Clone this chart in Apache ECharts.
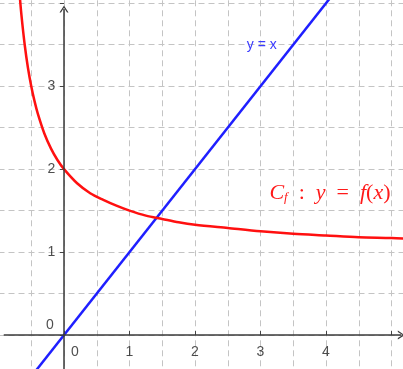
<!DOCTYPE html>
<html>
<head>
<meta charset="utf-8">
<script src="https://cdn.jsdelivr.net/npm/echarts@6/dist/echarts.min.js"></script>
<style>
  html, body { margin: 0; padding: 0; background: #fff; }
  #chart { width: 403px; height: 369px; }
</style>
</head>
<body>
<div id="chart"></div>
<script>
// courbe C_f (x, y)
const curveX = [-0.68, -0.65, -0.6, -0.55, -0.5, -0.45, -0.4, -0.3, -0.2, -0.1, 0, 0.2, 0.4, 0.6, 0.8, 1, 1.25, 1.5, 1.75, 2, 2.5, 3, 3.5, 4, 4.5, 5, 5.3]
const curveY = [4.13, 3.86, 3.5, 3.22, 3.0, 2.82, 2.67, 2.43, 2.25, 2.11, 2.0, 1.83, 1.71, 1.63, 1.56, 1.5, 1.44, 1.4, 1.36, 1.33, 1.29, 1.25, 1.22, 1.2, 1.18, 1.17, 1.16]
// droite y = x
const lineX = [-0.6, 4.3]
const lineY = [-0.6, 4.3]
const xTickLabels = [0, 1, 2, 3, 4]
const yTickLabels = [0, 1, 2, 3]

const gridLine = { color: '#c4c4c4', width: 1, type: [6, 4] }
const chevron = 'path://M0,10 L5,0 L10,10 L8.4,10 L5,3.2 L1.6,10 Z'
const labelFont = { color: '#222', fontSize: 14, fontFamily: 'Liberation Sans' }

const chart = echarts.init(document.getElementById('chart'))
chart.setOption({
  animation: false,
  grid: { left: -1.5, right: -54, top: -79.7, bottom: -49, outerBoundsMode: 'none' },
  xAxis: {
    type: 'value', min: -1, max: 6, interval: 1,
    axisLine: { show: true, onZero: true, lineStyle: { color: 'rgba(0,0,0,0)' } },
    axisTick: { show: true, inside: true, length: 4, lineStyle: { color: '#444' } },
    axisLabel: { show: false },
    splitLine: { show: true, lineStyle: gridLine },
    minorTick: { show: false, splitNumber: 2 },
    minorSplitLine: { show: true, lineStyle: gridLine },
  },
  yAxis: {
    type: 'value', min: -1, max: 5, interval: 1,
    axisLine: { show: true, onZero: true, lineStyle: { color: 'rgba(0,0,0,0)' } },
    axisTick: { show: true, length: 4, lineStyle: { color: '#444' } },
    axisLabel: { show: false },
    splitLine: { show: true, lineStyle: gridLine },
    minorTick: { show: false, splitNumber: 2 },
    minorSplitLine: { show: true, lineStyle: gridLine },
  },
  series: [
    {
      name: 'axes',
      type: 'line',
      data: [],
      markLine: {
        silent: true,
        symbol: ['none', chevron],
        symbolSize: [9, 7],
        lineStyle: { color: '#3a3a3a', width: 1.5, type: 'solid' },
        itemStyle: { color: '#3a3a3a' },
        label: { show: false },
        emphasis: { disabled: true },
        data: [
          [{ coord: [-0.92, 0] }, { coord: [5.15, 0] }],
          [{ coord: [0, -0.6] }, { coord: [0, 3.93] }],
        ],
      },
    },
    {
      name: 'xlabels',
      type: 'scatter',
      silent: true,
      symbolSize: 1,
      itemStyle: { color: 'rgba(0,0,0,0)' },
      data: xTickLabels.map((v) => [v, 0]),
      label: { show: true, position: 'inside', ...labelFont, formatter: (p) => String(p.value[0]) },
      labelLayout: (p) => ({ dx: p.dataIndex === 0 ? 11 : 0, dy: 17 }),
    },
    {
      name: 'ylabels',
      type: 'scatter',
      silent: true,
      symbolSize: 1,
      itemStyle: { color: 'rgba(0,0,0,0)' },
      data: yTickLabels.map((v) => [0, v]),
      label: { show: true, position: 'inside', ...labelFont, formatter: (p) => String(p.value[1]) },
      labelLayout: (p) => ({ dx: p.dataIndex === 0 ? -14 : -12.5, dy: p.dataIndex === 0 ? -10 : 0 }),
    },
    {
      name: 'y = x',
      type: 'line',
      data: lineX.map((x, i) => [x, lineY[i]]),
      showSymbol: false,
      lineStyle: { color: '#1f1fff', width: 2.5 },
      markPoint: {
        symbol: 'circle',
        symbolSize: 1,
        itemStyle: { color: 'rgba(0,0,0,0)' },
        silent: true,
        data: [{ coord: [3.02, 3.5] }],
        label: {
          show: true, formatter: 'y = x', color: '#3b3bff', fontSize: 14,
          fontFamily: 'Liberation Sans Narrow, Liberation Sans', position: 'inside',
        },
      },
    },
    {
      name: 'Cf',
      type: 'line',
      data: curveX.map((x, i) => [x, curveY[i]]),
      smooth: 0.3,
      showSymbol: false,
      lineStyle: { color: '#ff1010', width: 2.5 },
      markPoint: {
        symbol: 'circle',
        symbolSize: 1,
        itemStyle: { color: 'rgba(0,0,0,0)' },
        silent: true,
        data: [{ coord: [4.06, 1.71] }],
        label: {
          show: true, position: 'inside',
          formatter: '{c|C}{s|f}{t|  :  }{c|y}{t|  =  }{c|f}{t|(}{c|x}{t|)}',
          rich: {
            c: { color: '#ff1a1a', fontSize: 22, fontStyle: 'italic', fontFamily: 'Liberation Serif' },
            s: { color: '#ff1a1a', fontSize: 13, fontStyle: 'italic', fontFamily: 'Liberation Serif', verticalAlign: 'bottom', padding: [9, 0, 0, 0] },
            t: { color: '#ff1a1a', fontSize: 22, fontFamily: 'Liberation Serif' },
          },
        },
      },
    },
  ],
})
</script>
</body>
</html>
